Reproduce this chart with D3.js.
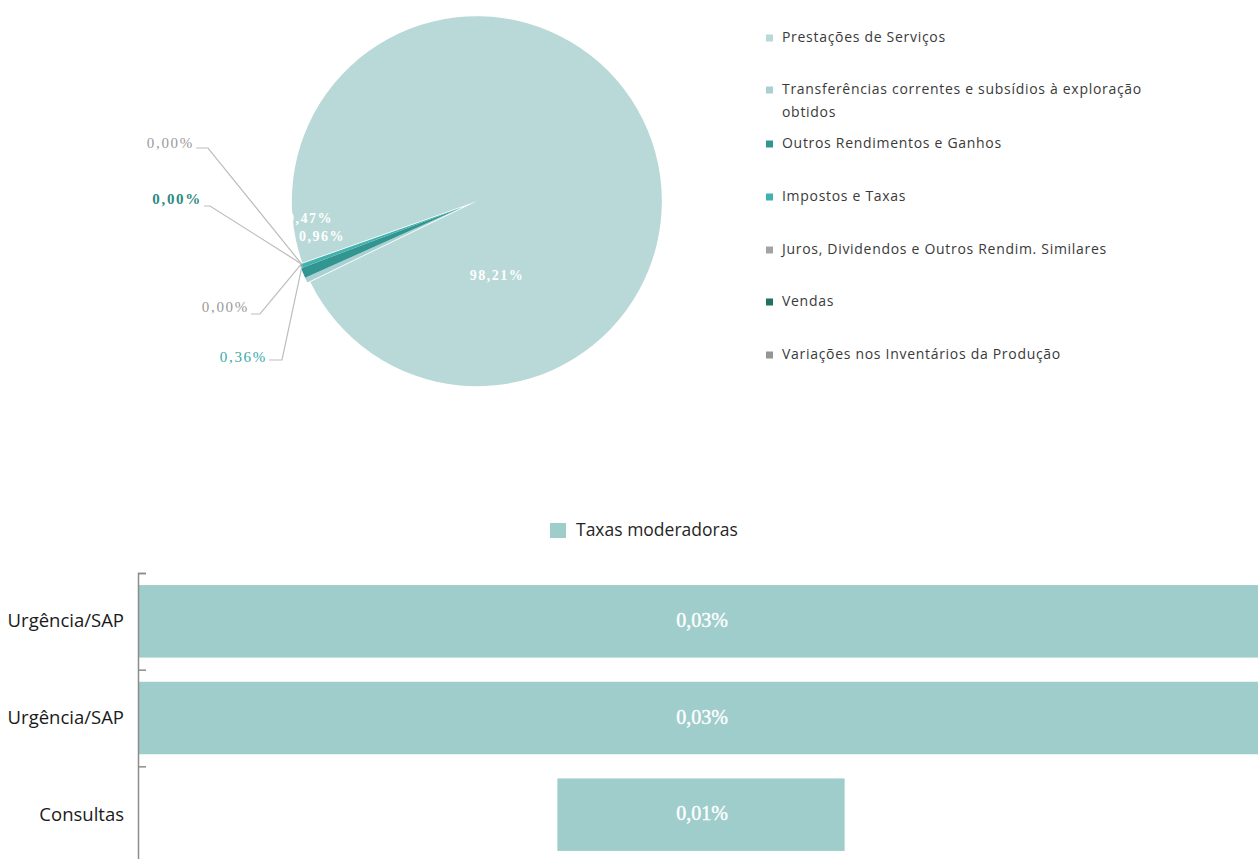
<!DOCTYPE html>
<html>
<head>
<meta charset="utf-8">
<script src="https://cdn.jsdelivr.net/npm/d3@7"></script>
<style>
  html, body { margin: 0; padding: 0; background: #ffffff; }
  svg { display: block; }
</style>
</head>
<body>
<svg id="chart" width="1258" height="859"></svg>
<script>
// ---------------- DATA ----------------
const pieCategories = [
  "Prestações de Serviços",
  "Transferências correntes e subsídios à exploração obtidos",
  "Outros Rendimentos e Ganhos",
  "Impostos e Taxas",
  "Juros, Dividendos e Outros Rendim. Similares",
  "Vendas",
  "Variações nos Inventários da Produção"
];
const pieValues = [98.21, 0.47, 0.96, 0.36, 0.00, 0.00, 0.00];
const pieColors = ["#b8d9d7", "#a9d1d4", "#339590", "#42b2af", "#a3a3a3", "#22705f", "#959595"];

const barCategories = ["Urgência/SAP", "Urgência/SAP", "Consultas"];
const barValues = [0.0294, 0.0294, 0.0075];
const barSeriesName = "Taxas moderadoras";
const barColor = "#9ecdcb";

// ---------------- HELPERS ----------------
const svg = d3.select("#chart");
const fmtPct = v => d3.format(".2f")(v).replace(".", ",") + "%";

// ---------------- PIE ----------------
const pieCx = 463, pieCy = 207, pieR = 185, smallR = 173, explode = 15;
const a0 = 250.6 * Math.PI / 180;
const pie = d3.pie().sort(null).value(d => d.value).startAngle(a0).endAngle(a0 + 2 * Math.PI);
const pieData = pie(pieCategories.map((c, i) => ({ cat: c, value: pieValues[i], color: pieColors[i], i })));

const gPie = svg.append("g").attr("transform", `translate(${pieCx},${pieCy})`);
const arcBig = d3.arc().innerRadius(0).outerRadius(pieR);
const arcSmall = d3.arc().innerRadius(0).outerRadius(smallR);

gPie.selectAll("path.slice")
  .data(pieData)
  .join("path")
  .attr("class", "slice")
  .attr("d", d => d.data.i === 0 ? arcBig(d) : arcSmall(d))
  .attr("fill", d => d.data.color)
  .attr("transform", d => {
    if (d.data.i !== 0) return null;
    const m = (d.startAngle + d.endAngle) / 2;
    return `translate(${explode * Math.sin(m)},${-explode * Math.cos(m)})`;
  });

// inside labels (white)
const insideLayout = { 0: [34, 70], 1: [-153, 13], 2: [-141, 31] };
gPie.selectAll("text.inlab")
  .data(pieData.filter(d => insideLayout[d.data.i]))
  .join("text")
  .attr("class", "inlab")
  .attr("x", d => insideLayout[d.data.i][0])
  .attr("y", d => insideLayout[d.data.i][1])
  .attr("text-anchor", "middle")
  .attr("dominant-baseline", "middle")
  .attr("fill", "#ffffff")
  .style("font-family", "'Liberation Serif', serif")
  .style("font-size", "14px")
  .style("font-weight", "bold")
  .style("letter-spacing", "1.5px")
  .text(d => fmtPct(d.data.value));

// outside labels with leader lines
// layout: [text end x, baseline y, elbow end x, underline y, font weight]
const outsideLayout = {
  4: [194, 148, 208, 148, "normal"],
  5: [202, 204, 210, 206, "bold"],
  3: [267, 362, 282, 360, "normal"],
  6: [249, 312, 260, 314, "normal"]
};
const labelColors = { 4: "#9a9a9a", 5: "#2e8a84", 3: "#3aa9a6", 6: "#9a9a9a" };
const anchorArc = d3.arc().innerRadius(smallR * 0.99).outerRadius(smallR * 0.99);
const outs = pieData.filter(d => outsideLayout[d.data.i]);
const gOut = svg.append("g");
outs.forEach(d => {
  const L = outsideLayout[d.data.i];
  const c = anchorArc.centroid(d);
  const ax = pieCx + c[0], ay = pieCy + c[1];
  gOut.append("polyline")
    .attr("points", `${L[0] + 2},${L[3]} ${L[2]},${L[3]} ${ax},${ay}`)
    .attr("fill", "none")
    .attr("stroke", "#bdbdbd")
    .attr("stroke-width", 1.2);
  gOut.append("text")
    .attr("x", L[0])
    .attr("y", L[1])
    .attr("text-anchor", "end")
    .attr("fill", labelColors[d.data.i])
    .style("font-family", "'Liberation Serif', serif")
    .style("font-size", "15px")
    .style("font-weight", L[4])
    .style("letter-spacing", "1.7px")
    .text(fmtPct(d.data.value));
});

// pie legend
const legendRows = [38, 90, 144, 197, 250, 302, 355];
const gLeg = svg.append("g");
pieCategories.forEach((c, i) => {
  const y = legendRows[i];
  gLeg.append("rect").attr("x", 766).attr("y", y - 3.5).attr("width", 7).attr("height", 7).attr("fill", pieColors[i]);
  const t = gLeg.append("text")
    .attr("x", 782).attr("y", y)
    .attr("dominant-baseline", "middle")
    .attr("fill", "#3a3a3a")
    .style("font-family", "'Open Sans', sans-serif")
    .style("font-size", "14px")
    .style("letter-spacing", "0.7px");
  if (i === 1) {
    const words = c.split(" ");
    t.append("tspan").attr("x", 782).attr("y", y).text(words.slice(0, -1).join(" "));
    t.append("tspan").attr("x", 782).attr("y", y + 23).text(words[words.length - 1]);
  } else {
    t.text(c);
  }
});

// ---------------- BAR CHART ----------------
const yBand = d3.scaleBand()
  .domain(barCategories.map((c, i) => i))
  .range([573, 863])
  .paddingInner(0.25)
  .paddingOuter(0.125);
const maxV = d3.max(barValues);
const x = d3.scaleLinear().domain([-maxV / 2, maxV / 2]).range([138, 1264]);

const gBar = svg.append("g");
gBar.selectAll("rect.bar")
  .data(barValues)
  .join("rect")
  .attr("class", "bar")
  .attr("x", d => x(-d / 2))
  .attr("width", d => x(d / 2) - x(-d / 2))
  .attr("y", (d, i) => yBand(i))
  .attr("height", yBand.bandwidth())
  .attr("fill", barColor);

gBar.selectAll("text.blab")
  .data(barValues)
  .join("text")
  .attr("class", "blab")
  .attr("x", x(0) + 1)
  .attr("y", (d, i) => yBand(i) + yBand.bandwidth() / 2 + 1)
  .attr("text-anchor", "middle")
  .attr("dominant-baseline", "middle")
  .attr("fill", "#ffffff")
  .attr("stroke", "#ffffff")
  .attr("stroke-width", 0.4)
  .style("font-family", "'Liberation Serif', serif")
  .style("font-size", "20px")
  .text(d => fmtPct(d));

// axis with ticks on band boundaries
const yLin = d3.scaleLinear().domain([0, barCategories.length]).range([573, 863]);
const axisG = svg.append("g")
  .attr("transform", "translate(138,0)")
  .call(d3.axisRight(yLin).ticks(barCategories.length).tickSize(8).tickSizeOuter(8).tickFormat(""));
axisG.selectAll("path, line").attr("stroke", "#8c8c8c").attr("stroke-width", 1.5);

const labelAxis = svg.append("g")
  .attr("transform", "translate(138,0)")
  .call(d3.axisLeft(yBand).tickSize(0).tickPadding(14).tickFormat(i => barCategories[i]));
labelAxis.select(".domain").remove();
labelAxis.selectAll("text")
  .attr("fill", "#1a1a1a")
  .style("font-family", "'Open Sans', sans-serif")
  .style("font-size", "18.5px");

// bar legend
svg.append("rect").attr("x", 550).attr("y", 523).attr("width", 16).attr("height", 15).attr("fill", barColor);
svg.append("text")
  .attr("x", 576).attr("y", 531)
  .attr("dominant-baseline", "middle")
  .attr("fill", "#262626")
  .style("font-family", "'Open Sans', sans-serif")
  .style("font-size", "17.5px")
  .text(barSeriesName);
</script>
</body>
</html>
